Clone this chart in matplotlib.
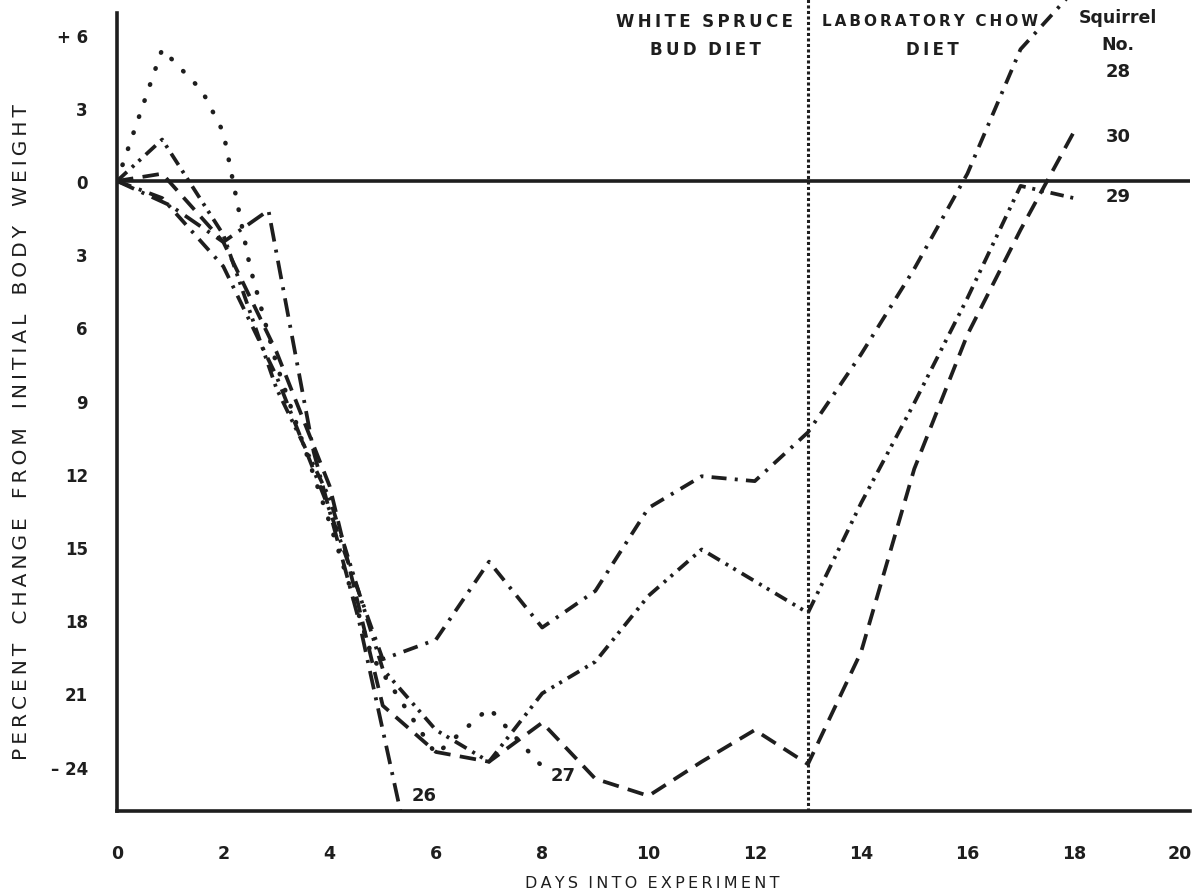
import matplotlib
matplotlib.use("Agg")
import matplotlib.pyplot as plt

# percent change in body weight
days_26 = [0, 1.0, 2.0, 2.85, 3.7, 4.55, 5.35]
wt_26 = [0, -1.0, -2.5, -1.2, -11.1, -18.0, -26.0]

days_27 = [0, 0.85, 1.6, 2.0, 2.5, 3.0, 4.0, 4.8, 6.0, 7.0, 8.0]
wt_27 = [0, 5.4, 3.7, 2.0, -3.5, -7.5, -14.0, -19.5, -23.5, -21.6, -24.0]

days_28 = [0, 0.85, 2, 3, 4, 5, 6, 7, 8, 9, 10, 11, 12, 13, 14, 15, 16, 17, 18]
wt_28 = [0, -0.7, -3.5, -8.0, -13.5, -19.6, -18.8, -15.6, -18.3, -16.8, -13.4,
         -12.1, -12.3, -10.3, -7.1, -3.6, 0.3, 5.4, 7.8]

days_29 = [0, 0.85, 2, 3, 4, 5, 6, 7, 8, 9, 10, 11, 12, 13, 14, 15, 16, 17, 18]
wt_29 = [0, 1.7, -2.2, -8.5, -13.0, -20.0, -22.5, -23.8, -21.0, -19.7, -17.0,
         -15.1, -16.4, -17.7, -13.2, -9.1, -4.8, -0.2, -0.7]

days_30 = [0, 0.85, 2, 3, 4, 5, 6, 7, 8, 9, 10, 11, 12, 13, 14, 15, 16, 17, 18]
wt_30 = [0, 0.3, -2.5, -7.0, -12.5, -21.5, -23.4, -23.8, -22.2, -24.5, -25.2,
         -23.8, -22.5, -23.9, -19.3, -11.8, -6.3, -2.0, 2.0]

diet_switch = 13
yticks = [6, 3, 0, -3, -6, -9, -12, -15, -18, -21, -24]
ytick_labels = ["+ 6", "3", "0", "3", "6", "9", "12", "15", "18", "21", "\u2013 24"]
xticks = [0, 2, 4, 6, 8, 10, 12, 14, 16, 18, 20]

W, H = 1198, 895
ink = "#1e1e1e"

fig = plt.figure(figsize=(W / 100, H / 100), dpi=100)
ax = fig.add_axes([117 / W, (H - 812) / H, (1190 - 117) / W, 812 / H])
ax.set_xlim(0, (1190 - 117) / 53.15)
ax.set_ylim(-(812 - 182) / 24.4, 182 / 24.4)

lw = 2.7
ax.plot(days_26, wt_26, color=ink, lw=lw, linestyle=(0, (5, 2.2, 0.8, 2.2)))
ax.plot(days_27, wt_27, color=ink, lw=3.3, linestyle=(0, (0.1, 3.6)),
        dash_capstyle="round")
ax.plot(days_28, wt_28, color=ink, lw=lw, linestyle=(0, (4, 2.2, 0.8, 2.2)))
ax.plot(days_29, wt_29, color=ink, lw=lw,
        linestyle=(0, (3.6, 1.8, 0.8, 1.6, 0.8, 1.8)))
ax.plot(days_30, wt_30, color=ink, lw=lw, linestyle=(0, (4.4, 2.5)))

ax.axhline(0, color=ink, lw=2.6)
ax.axvline(diet_switch, color=ink, lw=2.2, linestyle=(0, (1, 0.8)))

for s in ["top", "right"]:
    ax.spines[s].set_visible(False)
for s in ["left", "bottom"]:
    ax.spines[s].set_linewidth(2.6)
    ax.spines[s].set_color(ink)
ax.spines["left"].set_bounds(ax.get_ylim()[0], 6.9)

ax.set_yticks(yticks)
ax.set_yticklabels(ytick_labels, fontsize=12, fontweight="bold")
ax.set_xticks(xticks)
ax.set_xticklabels([str(t) for t in xticks], fontsize=12.5, fontweight="bold")
ax.tick_params(axis="y", length=0, pad=21, colors=ink)
ax.tick_params(axis="x", length=0, pad=24, colors=ink)

ts = "\u2009"
def spaced(words, gap="   ", sep=ts):
    return gap.join(sep.join(w) for w in words.split())

fig.text(22 / W, 1 - 432 / H,
         spaced("PERCENT CHANGE FROM INITIAL BODY WEIGHT", "   "),
         rotation=90, ha="center", va="center", fontsize=14.5, color=ink)
fig.text(652 / W, 1 - 884 / H, spaced("DAYS INTO EXPERIMENT", "  "),
         ha="center", va="center", fontsize=11.5, color=ink)

def ftext(x, y, s, **kw):
    fig.text(x / W, 1 - y / H, s, ha="center", va="center", color=ink,
             fontweight="bold", **kw)

ftext(705, 22, spaced("WHITE SPRUCE", "  "), fontsize=12)
ftext(705, 50, spaced("BUD DIET", "  "), fontsize=12)
ftext(930, 22, spaced("LABORATORY CHOW", "  "), fontsize=11)
ftext(932, 50, spaced("DIET"), fontsize=12)
ftext(1118, 18, "Squirrel", fontsize=12.5)
ftext(1118, 45, "No.", fontsize=12.5)
ftext(1118, 72, "28", fontsize=13)
ftext(1118, 137, "30", fontsize=13)
ftext(1118, 197, "29", fontsize=13)
ftext(424, 796, "26", fontsize=13)
ftext(563, 776, "27", fontsize=13)

fig.savefig("out.png", dpi=100, facecolor="white")
